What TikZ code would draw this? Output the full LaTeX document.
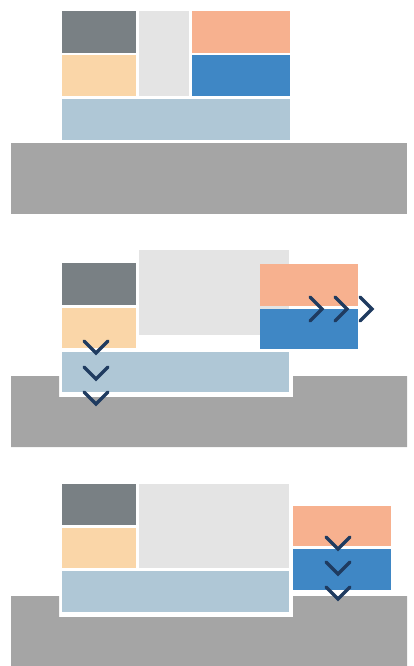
\documentclass[tikz,border=0pt]{standalone}
\definecolor{cDark}{HTML}{798084}
\definecolor{cLight}{HTML}{E4E4E4}
\definecolor{cSalmon}{HTML}{F7B18F}
\definecolor{cTan}{HTML}{FAD6A8}
\definecolor{cBlue}{HTML}{3F87C5}
\definecolor{cPale}{HTML}{AFC7D6}
\definecolor{cGround}{HTML}{A5A5A5}
\definecolor{cNavy}{HTML}{1F3B60}
\tikzset{chev/.style={draw=cNavy,line width=3.3pt,line cap=round,line join=miter}}
\begin{document}
\begin{tikzpicture}[x=1pt,y=-1pt]
\useasboundingbox (0,0) rectangle (413,666);
% ---------- Panel 1 ----------
\fill[cGround] (11,143) rectangle (407,214);
\fill[cDark] (62,11) rectangle (136,53);
\fill[cLight] (139,11) rectangle (189,96);
\fill[cSalmon] (192,11) rectangle (290,53);
\fill[cTan] (62,55) rectangle (136,96);
\fill[cBlue] (192,55) rectangle (290,96);
\fill[cPale] (62,99) rectangle (290,140);
% ---------- Panel 2 ----------
\fill[cGround] (11,376) -- (59,376) -- (59,397) -- (293,397) -- (293,376) -- (407,376) -- (407,447) -- (11,447) -- cycle;
\fill[cLight] (139,250) rectangle (289,335);
\fill[cDark] (62,263) rectangle (136,305);
\fill[cTan] (62,308) rectangle (136,348);
\fill[cSalmon] (260,264) rectangle (358,306);
\fill[cBlue] (260,309) rectangle (358,349);
\fill[cPale] (62,352) rectangle (289,392);
\draw[chev] (84,341) -- (96,353) -- (108,341);
\draw[chev] (84,367) -- (96,379) -- (108,367);
\draw[chev] (84,392) -- (96,404) -- (108,392);
\draw[chev] (310,297) -- (322,309) -- (310,321);
\draw[chev] (335,297) -- (347,309) -- (335,321);
\draw[chev] (360,297) -- (372,309) -- (360,321);
% ---------- Panel 3 ----------
\fill[cGround] (11,596) -- (59,596) -- (59,617) -- (293,617) -- (293,596) -- (407,596) -- (407,666) -- (11,666) -- cycle;
\fill[cDark] (62,484) rectangle (136,525);
\fill[cLight] (139,484) rectangle (289,568);
\fill[cTan] (62,528) rectangle (136,568);
\fill[cPale] (62,571) rectangle (289,612);
\fill[cSalmon] (293,506) rectangle (391,546);
\fill[cBlue] (293,549) rectangle (391,590);
\draw[chev] (326,537) -- (338,549) -- (350,537);
\draw[chev] (326,562) -- (338,574) -- (350,562);
\draw[chev] (326,587) -- (338,599) -- (350,587);
\end{tikzpicture}
\end{document}
